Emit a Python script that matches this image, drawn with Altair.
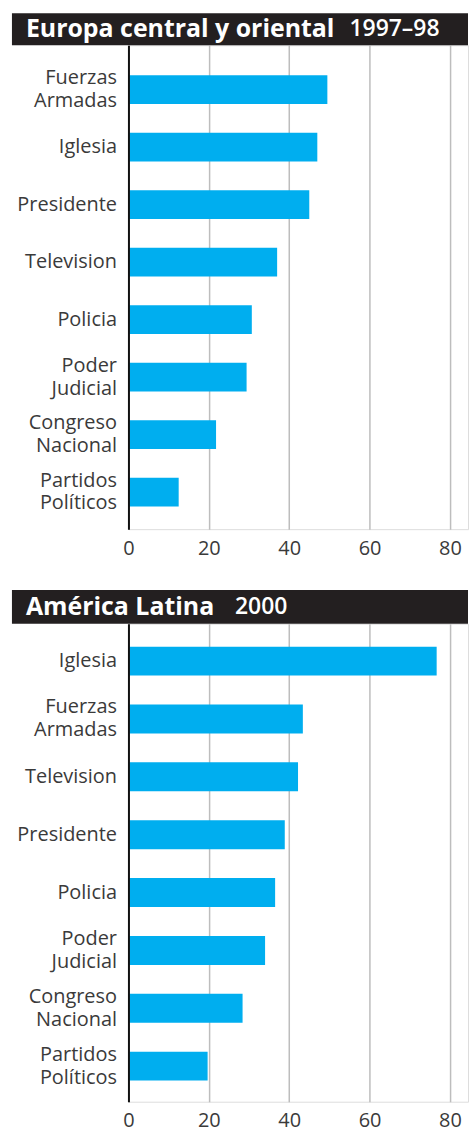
import altair as alt
import pandas as pd

# ---- data ----
cats_top = ["Fuerzas Armadas", "Iglesia", "Presidente", "Television", "Policia",
            "Poder Judicial", "Congreso Nacional", "Partidos Políticos"]
vals_top = [49.5, 47, 45, 37, 30.7, 29.4, 21.8, 12.5]

cats_bot = ["Iglesia", "Fuerzas Armadas", "Television", "Presidente", "Policia",
            "Poder Judicial", "Congreso Nacional", "Partidos Políticos"]
vals_bot = [76.7, 43.4, 42.2, 38.9, 36.5, 34, 28.4, 19.7]

tick_values = [0, 20, 40, 60, 80]
titles = ["Europa central y oriental", "América Latina"]
subtitles = ["1997–98", "2000"]

BAR = "#00AEEF"
HEAD = "#231F20"
TXT = "#3a3a3a"
FONT = "Open Sans"
W = 341


def panel(cats, vals, title, subtitle, height, head_h, sub_x, pad_outer, align):
    df = pd.DataFrame({"cat": cats, "val": vals})
    x = alt.X("val:Q",
              scale=alt.Scale(domain=[0, 84.5], nice=False, zero=True),
              axis=alt.Axis(values=tick_values, title=None, domain=False, ticks=False,
                            grid=True, gridColor="#BDBDBD", gridWidth=1.5,
                            labelFont=FONT, labelFontSize=20, labelColor=TXT,
                            labelPadding=9, labelFlush=False, zindex=0))
    y = alt.Y("cat:N", sort=cats,
              scale=alt.Scale(paddingInner=0.5, paddingOuter=pad_outer, align=align),
              axis=alt.Axis(title=None, ticks=False, domain=True, domainColor="#111111",
                            domainWidth=2, grid=False,
                            labelFont=FONT, labelFontSize=20, labelColor=TXT,
                            labelPadding=12, labelLineHeight=23,
                            labelExpr="split(datum.label, ' ')",
                            labelOffset={"condition": {"test": "indexof(datum.label, ' ') >= 0",
                                                       "value": -11.5},
                                         "value": 0},
                            labelLimit=200, minExtent=128, maxExtent=128, zindex=1))
    bars = alt.Chart(df).mark_bar(color=BAR).encode(x=x, y=y)

    hdf = pd.DataFrame({"t": [title], "s": [subtitle]})
    head = alt.Chart(hdf).mark_rect(color=HEAD).encode(
        x=alt.value(-117), x2=alt.value(W), y=alt.value(-head_h), y2=alt.value(0))
    t1 = alt.Chart(hdf).mark_text(color="white", font=FONT, fontWeight="bold", fontSize=25,
                                  align="left", baseline="middle").encode(
        text="t:N", x=alt.value(-103), y=alt.value(-head_h / 2))
    t2 = alt.Chart(hdf).mark_text(color="white", font=FONT, fontWeight=600, fontSize=23,
                                  align="left", baseline="middle").encode(
        text="s:N", x=alt.value(sub_x), y=alt.value(-head_h / 2))
    return alt.layer(bars, head, t1, t2).properties(width=W, height=height)


top = panel(cats_top, vals_top, titles[0], subtitles[0], 486, 32, 222, 0.46, 0.57)
bot = panel(cats_bot, vals_bot, titles[1], subtitles[1], 480, 34, 107, 0.38, 0.52)

chart = alt.vconcat(top, bot, spacing=30).resolve_scale(y="independent").properties(
    padding={"left": 0, "top": 10, "right": 0, "bottom": 0}
).configure_view(stroke=None).configure(background="white")

chart.save("out.html", embed_options={"renderer": "svg", "actions": False})
